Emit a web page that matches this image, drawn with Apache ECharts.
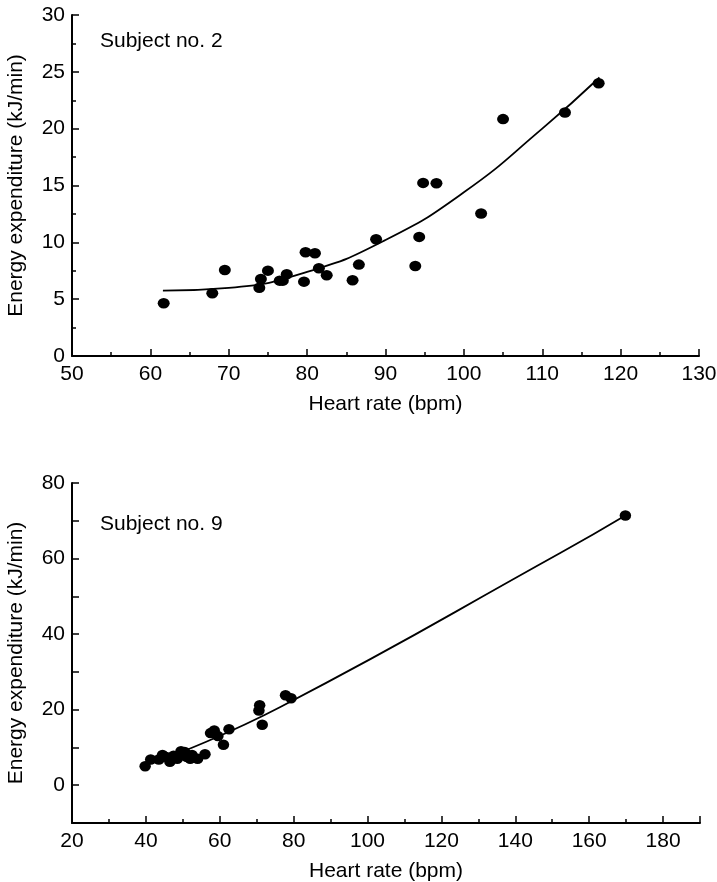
<!DOCTYPE html>
<html>
<head>
<meta charset="utf-8">
<script src="https://cdn.jsdelivr.net/npm/echarts@6/dist/echarts.min.js"></script>
<style>
html,body{margin:0;padding:0;background:#fff;}
#c{width:717px;height:882px;}
</style>
</head>
<body>
<div id="c"></div>
<script>
// Subject no. 2 — observed points
const hr2 = [61.7, 67.9, 69.5, 73.9, 74.1, 75.0, 76.5, 76.9, 77.4, 79.6, 79.8, 81.0, 81.5, 82.5, 85.8, 86.6, 88.8, 93.8, 94.3, 94.8, 96.5, 102.2, 105.0, 112.9, 117.2];
const ee2 = [4.64, 5.52, 7.57, 6.01, 6.78, 7.51, 6.63, 6.63, 7.19, 6.54, 9.13, 9.04, 7.72, 7.10, 6.66, 8.04, 10.27, 7.92, 10.48, 15.23, 15.2, 12.53, 20.84, 21.42, 24.0];
// Subject no. 2 — fitted curve
const fitHr2 = [61.6, 70.0, 80.0, 90.0, 100.0, 110.0, 117.3];
const fitEe2 = [5.75, 6.0, 7.4, 10.2, 14.4, 20.0, 24.5];

// Subject no. 9 — observed points
const hr9 = [39.8, 41.3, 43.5, 44.5, 45.5, 46.5, 47.5, 48.5, 49.5, 50.5, 51.0, 52.0, 52.5, 54.0, 56.0, 57.5, 58.5, 59.5, 61.0, 62.5, 70.8, 70.6, 71.5, 77.8, 79.3, 169.8];
const ee9 = [5.0, 6.8, 6.8, 8.0, 7.5, 6.2, 7.8, 7.0, 9.0, 8.8, 7.5, 7.0, 8.0, 7.0, 8.2, 13.8, 14.5, 13.0, 10.7, 14.8, 21.2, 19.8, 16.0, 23.8, 23.0, 71.4];
// Subject no. 9 — fitted line
const fitHr9 = [47.0, 76.4, 152.4, 169.8];
const fitEe9 = [7.8, 20.7, 61.6, 71.4];

const labels = { title2: 'Subject no. 2', title9: 'Subject no. 9', xName: 'Heart rate (bpm)', yName: 'Energy expenditure (kJ/min)' };

const FONT = '"Liberation Sans", Arial, Helvetica, sans-serif';
const FS = 21;
const INK = '#000';
const zip = (a, b) => a.map((v, i) => [v, b[i]]);

function xAx(gi, min, max, interval) {
  return {
    type: 'value', gridIndex: gi, min: min, max: max, interval: interval,
    name: labels.xName, nameLocation: 'middle', nameGap: 38,
    nameTextStyle: { color: INK, fontSize: FS, fontFamily: FONT },
    axisLine: { show: true, onZero: false, lineStyle: { color: INK, width: 2 } },
    axisTick: { show: true, inside: true, length: 7, lineStyle: { color: INK, width: 1.5 } },
    minorTick: { show: true, splitNumber: 2, length: 4, lineStyle: { color: INK, width: 1.5 } },
    axisLabel: { color: INK, fontSize: FS, fontFamily: FONT, margin: 8, showMaxLabel: (max - min) % interval === 0 },
    splitLine: { show: false }
  };
}

function yAx(gi, min, max, interval, withMinor, formatter) {
  return {
    type: 'value', gridIndex: gi, min: min, max: max, interval: interval,
    name: labels.yName, nameLocation: 'middle', nameGap: 45,
    nameTextStyle: { color: INK, fontSize: FS, fontFamily: FONT },
    axisLine: { show: true, onZero: false, lineStyle: { color: INK, width: 2 } },
    axisTick: { show: true, inside: true, length: 7, lineStyle: { color: INK, width: 1.5 } },
    minorTick: { show: withMinor, splitNumber: 2, length: 4, lineStyle: { color: INK, width: 1.5 } },
    axisLabel: { color: INK, fontSize: FS, fontFamily: FONT, margin: 7, formatter: formatter },
    splitLine: { show: false }
  };
}

const option = {
  animation: false,
  backgroundColor: '#fff',
  grid: [
    { left: 72, right: 18, top: 15, bottom: 526, containLabel: false, outerBoundsMode: 'none' },
    { left: 72, right: 17, top: 483, bottom: 59, containLabel: false, outerBoundsMode: 'none' }
  ],
  xAxis: [
    xAx(0, 50, 130, 10),
    xAx(1, 20, 190, 20)
  ],
  yAxis: [
    yAx(0, 0, 30, 5, true, v => String(v)),
    yAx(1, -10, 80, 10, false, v => (v >= 0 && v % 20 === 0) ? String(v) : '')
  ],
  graphic: [
    { type: 'text', left: 100, top: 31, style: { text: labels.title2, fill: INK, font: FS + 'px ' + FONT } },
    { type: 'text', left: 100, top: 514, style: { text: labels.title9, fill: INK, font: FS + 'px ' + FONT } }
  ],
  series: [
    { type: 'line', xAxisIndex: 0, yAxisIndex: 0, data: zip(fitHr2, fitEe2), smooth: 0.5, symbol: 'none',
      lineStyle: { color: INK, width: 1.8 }, z: 2 },
    { type: 'scatter', xAxisIndex: 0, yAxisIndex: 0, data: zip(hr2, ee2), symbol: 'circle', symbolSize: [12, 10.5],
      itemStyle: { color: INK, opacity: 1 }, z: 3 },
    { type: 'line', xAxisIndex: 1, yAxisIndex: 1, data: zip(fitHr9, fitEe9), smooth: true, symbol: 'none',
      lineStyle: { color: INK, width: 1.8 }, z: 2 },
    { type: 'scatter', xAxisIndex: 1, yAxisIndex: 1, data: zip(hr9, ee9), symbol: 'circle', symbolSize: [11.5, 10.5],
      itemStyle: { color: INK, opacity: 1 }, z: 3 }
  ]
};

const chart = echarts.init(document.getElementById('c'), null, { renderer: 'canvas' });
chart.setOption(option);
</script>
</body>
</html>
